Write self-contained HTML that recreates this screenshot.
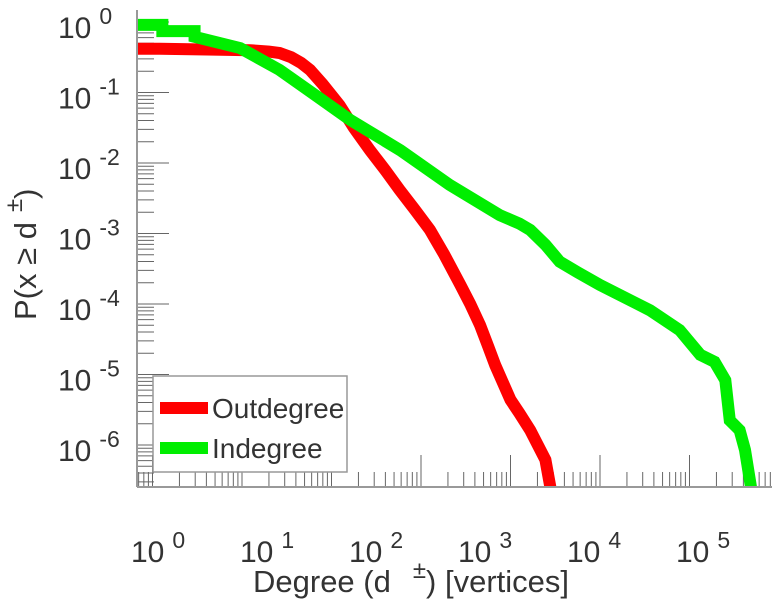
<!DOCTYPE html>
<html><head><meta charset="utf-8"><style>
body{margin:0;background:#fff;}
svg text{font-family:"Liberation Sans",sans-serif;fill:#333;}
</style></head><body>
<svg id="c" width="772" height="600" viewBox="0 0 772 600">
<defs><clipPath id="clip"><rect x="137" y="0" width="635" height="487"/></clipPath></defs>
<g id="ticks"></g>
<g id="series" clip-path="url(#clip)"></g>
<line x1="137" y1="10" x2="137" y2="487" stroke="#999" stroke-width="2"/>
<line x1="137" y1="487" x2="772" y2="487" stroke="#999" stroke-width="2"/>
<g id="labels"></g>
<g>
<rect x="153" y="376" width="194" height="96" fill="#fff" stroke="#999" stroke-width="1.5"/>
<line x1="160" y1="408" x2="208" y2="408" stroke="#f00" stroke-width="12"/>
<text x="212" y="418" font-size="28" fill="#111">Outdegree</text>
<line x1="160" y1="448" x2="208" y2="448" stroke="#0e0" stroke-width="12"/>
<text x="212" y="458" font-size="28" fill="#111">Indegree</text>
</g>
<text x="253" y="592" font-size="31">Degree (d<tspan dx="22" dy="-14" font-size="24">±</tspan><tspan dy="14">) [vertices]</tspan></text>
<text transform="translate(36,320) rotate(-90)" font-size="31">P(x ≥ d<tspan dx="10" dy="-14" font-size="24">±</tspan><tspan dy="14">)</tspan></text>
</svg>
<script>
const outLogDeg=[-0.17,0.08,0.6,1.09,1.3,1.42,1.55,1.66,1.76,1.9,2.09,2.25,2.43,2.6,2.76,2.93,3.10,3.26,3.44,3.55,3.66,3.75,3.83,4.0,4.1,4.22,4.39,4.46];
const outLogP=[-0.38,-0.38,-0.39,-0.40,-0.42,-0.44,-0.50,-0.58,-0.68,-0.88,-1.18,-1.50,-1.82,-2.10,-2.38,-2.66,-2.95,-3.30,-3.73,-4.00,-4.30,-4.60,-4.87,-5.36,-5.55,-5.79,-6.21,-6.7];
const inLogDeg=[-0.17,0.11,0.11,0.47,0.47,0.98,1.42,1.8,2.21,2.77,3.32,3.88,4.1,4.22,4.39,4.55,4.75,5.0,5.56,5.89,6.12,6.28,6.40,6.45,6.56,6.62,6.70];
const inLogP=[-0.04,-0.04,-0.13,-0.13,-0.21,-0.37,-0.68,-1.02,-1.39,-1.82,-2.31,-2.74,-2.86,-2.95,-3.16,-3.40,-3.55,-3.73,-4.09,-4.37,-4.72,-4.82,-5.08,-5.65,-5.79,-6.07,-6.7];
const xTickLabels=["0","1","2","3","4","5"];
const yTickLabels=["0","-1","-2","-3","-4","-5","-6"];
const NS="http://www.w3.org/2000/svg";
const X=l=>152.5+l*89.5, Y=l=>22-l*70.5;
function mk(t,a,p){const e=document.createElementNS(NS,t);for(const k in a)e.setAttribute(k,a[k]);p.appendChild(e);return e;}
const tg=document.getElementById('ticks');
for(let d=-1;d<7;d++)for(let m=1;m<10;m++){const x=X(d+Math.log10(m));if(x<137||x>772)continue;
 const t=mk('line',{x1:x,x2:x,y1:487,y2:487-(m==1?32:15),stroke:'#666','stroke-width':1},tg);
 
 }
for(let d=-7;d<1;d++)for(let m=1;m<10;m++){const y=Y(d+Math.log10(m));if(y<10||y>487)continue;
 const t=mk('line',{x1:137,x2:137+(m==1?32:17),y1:y,y2:y,stroke:'#666','stroke-width':1},tg);
 
 }
const sg=document.getElementById('series');
function draw(xs,ys,c,n){const p=mk('polyline',{points:xs.map((v,i)=>X(v)+','+Y(ys[i])).join(' '),fill:'none',stroke:c,'stroke-width':12,'stroke-linejoin':'miter'},sg);
 
 }
draw(outLogDeg,outLogP,'#f00','outdegree-line');
draw(inLogDeg,inLogP,'#0e0','indegree-line');
const lg=document.getElementById('labels');
xTickLabels.forEach((s,i)=>{const t=mk('text',{x:131+i*109,y:562,'font-size':30},lg);
 t.innerHTML='10<tspan dx="8" dy="-14" font-size="23">'+s+'</tspan>';
 
 });
yTickLabels.forEach((s,i)=>{const t=mk('text',{x:58,y:Y(-i)+16,'font-size':30},lg);
 t.innerHTML='10<tspan dx="8" dy="-14" font-size="23">'+s+'</tspan>';
 
 });
</script>
</body></html>
